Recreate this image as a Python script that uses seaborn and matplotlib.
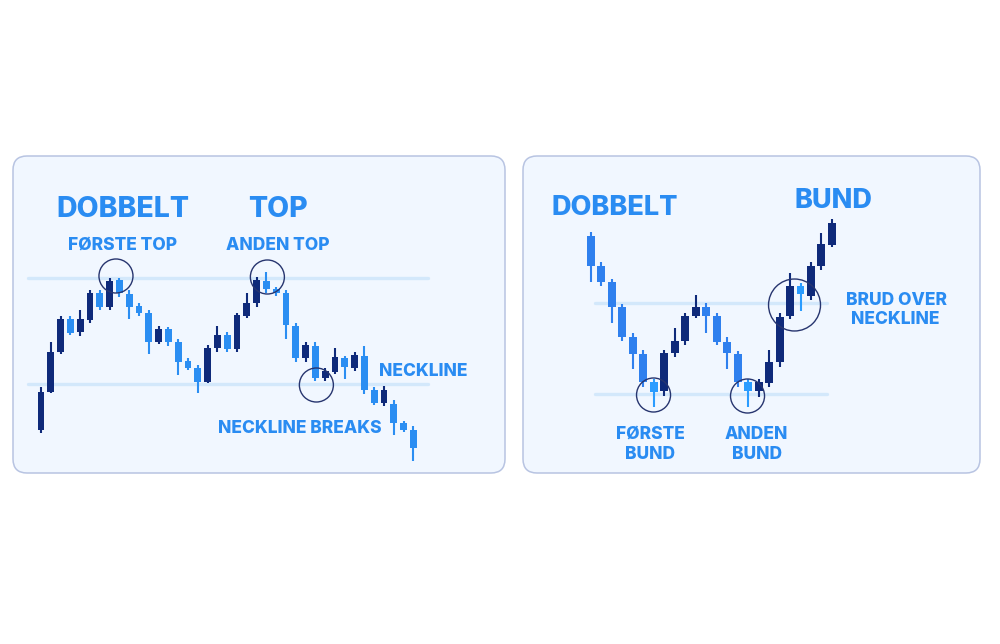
import numpy as np
import pandas as pd
import matplotlib.pyplot as plt
import seaborn as sns
from matplotlib.patches import FancyBboxPatch

# Candle data (price units, higher = up)

top_open = [43, 81, 121, 154, 141, 153, 180, 166, 193, 179, 167, 160, 131, 144, 131, 112, 105, 91, 125, 138,
            124, 157, 170, 192, 184, 180, 147, 115, 127, 95, 101, 115, 105, 117, 83, 70, 69, 50, 43]
top_close = [81, 121, 154, 140, 154, 180, 166, 192, 180, 166, 160, 131, 144, 131, 111, 105, 91, 125, 138, 124,
             158, 170, 193, 184, 180, 148, 115, 128, 95, 102, 116, 106, 118, 83, 70, 83, 50, 43, 25]
top_high = [86, 131, 157, 157, 163, 183, 183, 195, 195, 183, 170, 163, 147, 146, 134, 115, 108, 128, 147, 141,
            160, 180, 196, 201, 186, 183, 150, 131, 131, 105, 125, 117, 121, 127, 86, 87, 73, 52, 47]
top_low = [40, 80, 119, 138, 137, 150, 163, 163, 176, 154, 157, 119, 129, 127, 98, 103, 80, 90, 121, 121,
           121, 155, 166, 180, 177, 134, 111, 111, 92, 92, 99, 94, 102, 79, 68, 67, 38, 41, 12]
top_resistance = 195
top_neckline = 89
top_circles_x = [7.65, 23.1, 28.1]
top_circles_y = [197, 196, 88]

bot_open = [237, 207, 191, 166, 136, 119, 91, 82, 120, 132, 157, 166, 157, 131, 119, 91, 82, 90, 111, 157,
            187, 177, 207, 228]
bot_close = [207, 191, 166, 136, 119, 91, 81, 120, 132, 157, 166, 157, 131, 120, 91, 82, 91, 111, 156, 187,
             179, 207, 229, 250]
bot_high = [241, 211, 194, 169, 140, 123, 94, 123, 145, 160, 178, 170, 160, 136, 122, 94, 94, 123, 160, 200,
            190, 211, 240, 254]
bot_low = [191, 187, 150, 132, 104, 86, 66, 77, 116, 128, 155, 140, 128, 104, 86, 66, 76, 86, 106, 154,
           162, 173, 203, 226]
bright = [6, 15, 20]
bot_neckline = 170
bot_support = 79
bot_circles_x = [5.99, 14.95]
bot_circles_y = [78, 77]
break_x = 19.43
break_y = 168

# Colours

navy = '#0f2a7a'
light = '#2b8ef2'
light2 = '#2f80ee'
bright_c = '#2a9cff'
text_c = '#2a8cf2'
line_c = '#d3e8fb'
panel_bg = '#f1f7ff'
panel_edge = '#b8c4e2'
ring_c = '#27356f'

sns.set_theme(style='white')
plt.rcParams['font.family'] = ['Inter', 'DejaVu Sans']

fig = plt.figure(figsize=(10, 6.44), dpi=100)
fig.patch.set_facecolor('white')

# Background axes in pixel units for panels and labels

bg = fig.add_axes([0, 0, 1, 1], zorder=0)
bg.set_xlim(0, 1000)
bg.set_ylim(644, 0)
bg.axis('off')

for x0, w in [(13, 492), (523, 457)]:
    bg.add_patch(FancyBboxPatch((x0, 156), w, 317,
                                boxstyle='round,pad=0,rounding_size=14',
                                facecolor=panel_bg, edgecolor=panel_edge, linewidth=1.1))


def candles(ax, df, width, colors):
    ax.vlines(df['x'], df['low'], df['high'], colors=colors, linewidth=1.5, zorder=2)
    ax.bar(df['x'], df['close'] - df['open'], bottom=df['open'], width=width,
           color=colors, linewidth=0, zorder=3)


# Left panel: double top

ax1 = fig.add_axes([13 / 1000, 171 / 644, 492 / 1000, 317 / 644], zorder=1)
ax1.patch.set_alpha(0)
ax1.axis('off')
ax1.set_xlim((13 - 41) / 9.8, (505 - 41) / 9.8)
ax1.set_ylim(0, 317)

df_top = pd.DataFrame({'x': np.arange(len(top_open)), 'open': top_open, 'close': top_close,
                       'high': top_high, 'low': top_low})
cols_top = [navy if c > o else light for o, c in zip(top_open, top_close)]

sns.lineplot(x=[-1.33, 39.5], y=[top_resistance] * 2, ax=ax1, color=line_c, linewidth=2.4, zorder=1)
sns.lineplot(x=[-1.33, 39.5], y=[top_neckline] * 2, ax=ax1, color=line_c, linewidth=2.4, zorder=1)
candles(ax1, df_top, 0.68, cols_top)
ax1.scatter(top_circles_x, top_circles_y, s=600, facecolors='none', edgecolors=ring_c, linewidths=1.0, zorder=4)

# Right panel: double bottom

ax2 = fig.add_axes([523 / 1000, 171 / 644, 457 / 1000, 317 / 644], zorder=1)
ax2.patch.set_alpha(0)
ax2.axis('off')
ax2.set_xlim((523 - 590.7) / 10.49, (980 - 590.7) / 10.49)
ax2.set_ylim(0, 317)

df_bot = pd.DataFrame({'x': np.arange(len(bot_open)), 'open': bot_open, 'close': bot_close,
                       'high': bot_high, 'low': bot_low})
cols_bot = []
for i, (o, c) in enumerate(zip(bot_open, bot_close)):
    if c > o:
        cols_bot.append(navy)
    elif i in bright:
        cols_bot.append(bright_c)
    else:
        cols_bot.append(light2)

sns.lineplot(x=[0.41, 22.5], y=[bot_neckline] * 2, ax=ax2, color=line_c, linewidth=2.4, zorder=1)
sns.lineplot(x=[0.41, 22.5], y=[bot_support] * 2, ax=ax2, color=line_c, linewidth=2.4, zorder=1)
candles(ax2, df_bot, 0.76, cols_bot)
ax2.scatter(bot_circles_x, bot_circles_y, s=600, facecolors='none', edgecolors=ring_c, linewidths=1.0, zorder=4)
ax2.scatter([break_x], [break_y], s=1400, facecolors='none', edgecolors=ring_c, linewidths=1.0, zorder=4)

# Labels

big = dict(fontsize=20.5, fontweight='heavy', color=text_c, ha='center', va='baseline')
small = dict(fontsize=12.5, fontweight='heavy', color=text_c, ha='center', va='baseline')

bg.text(123, 217, 'DOBBELT', **big)
bg.text(277.5, 217, 'TOP', **big)
bg.text(122.5, 250, 'FØRSTE TOP', **small)
bg.text(277.5, 250, 'ANDEN TOP', **small)
bg.text(423, 376, 'NECKLINE', **small)
bg.text(300, 433, 'NECKLINE BREAKS', **small)

bg.text(615, 215, 'DOBBELT', **dict(big, fontsize=19.5))
bg.text(833, 208, 'BUND', **dict(big, fontsize=19.5))
bg.text(896, 305, 'BRUD OVER', **small)
bg.text(895.5, 324, 'NECKLINE', **small)
bg.text(650, 439, 'FØRSTE', **small)
bg.text(650, 459, 'BUND', **small)
bg.text(756.5, 439, 'ANDEN', **small)
bg.text(757, 459, 'BUND', **small)

plt.savefig('out.png', dpi=100)
